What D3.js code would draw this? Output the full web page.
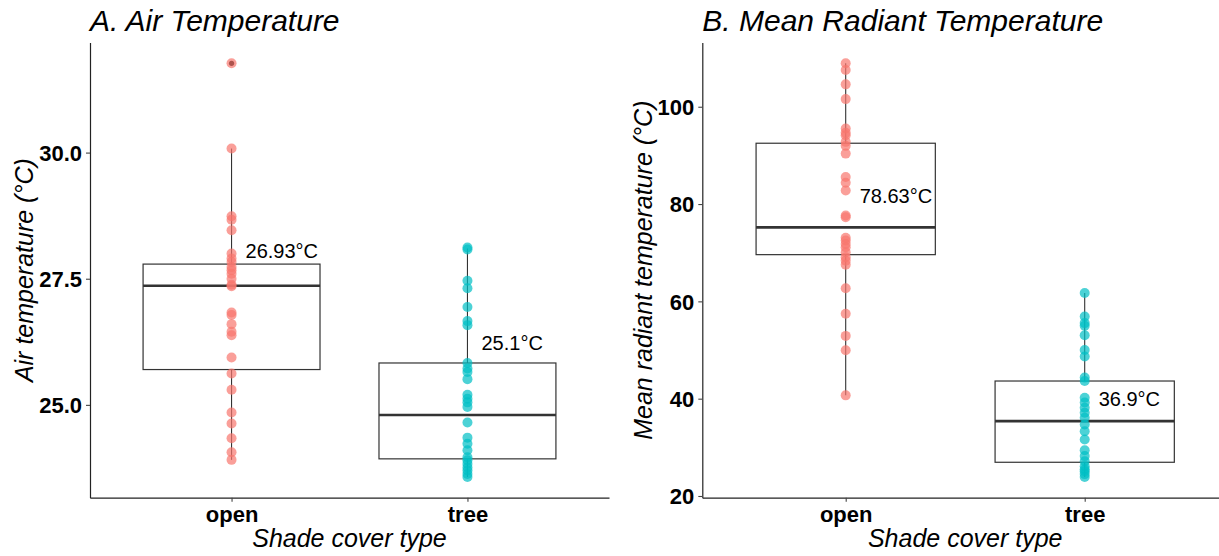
<!DOCTYPE html>
<html>
<head>
<meta charset="utf-8">
<script src="https://cdn.jsdelivr.net/npm/d3@7"></script>
<style>
  body { margin: 0; background: #fff; }
  text { font-family: "Liberation Sans", Arial, sans-serif; }
</style>
</head>
<body>
<div id="chart"></div>
<script>
// values
var categories = ["open", "tree"];

var airOpen = [31.77, 30.08, 28.74, 28.67, 28.46, 28.0, 27.9, 27.83, 27.73, 27.67, 27.6, 27.5, 27.38, 27.35,
    26.83, 26.78, 26.6, 26.45, 26.38, 25.94, 25.62, 25.3, 24.85, 24.63, 24.34, 24.06, 23.91];
var airTree = [28.12, 28.08, 27.46, 27.31, 26.94, 26.66, 26.58, 25.83, 25.72, 25.65, 25.51, 25.2, 25.12,
    25.05, 24.96, 24.65, 24.35, 24.23, 24.1, 23.96, 23.9, 23.83, 23.76, 23.7, 23.63, 23.57];
var mrtOpen = [108.93, 107.55, 104.6, 101.57, 95.53, 94.63, 94.15, 92.78, 91.96, 90.37, 85.57, 84.39, 82.8,
    77.65, 77.3, 73.05, 72.5, 71.8, 71.13, 70.1, 69.07, 68.37, 67.55, 62.68, 57.44, 52.9, 49.96, 40.68];
var mrtTree = [61.71, 56.9, 55.53, 54.97, 53.05, 50.02, 48.66, 44.33, 43.63, 40.2, 39.2, 38.14, 37.1, 36.08,
    34.7, 33.32, 31.6, 29.4, 28.2, 27.13, 26.1, 25.5, 25.07, 24.5, 23.9];

// box stats per category: [lower whisker, q1, median, q3, upper whisker]
var airBoxOpen = [23.91, 25.70, 27.36, 27.79, 30.08];
var airBoxTree = [23.57, 23.93, 24.80, 25.83, 28.10];
var mrtBoxOpen = [40.68, 69.6, 75.2, 92.5, 108.93];
var mrtBoxTree = [23.9, 26.93, 35.38, 43.63, 61.71];
var airOutliers = [[31.77], []];
var mrtOutliers = [[], []];

var airMeans = [26.93, 25.1];
var mrtMeans = [78.63, 36.9];
var airMeanLabels = ["26.93°C", "25.1°C"];
var mrtMeanLabels = ["78.63°C", "36.9°C"];

var airTicks = [25, 27.5, 30];
var mrtTicks = [20, 40, 60, 80, 100];

var width = 1219,
    height = 556,
    plotTop = 42.6,
    plotBottom = 497.7;

var colors = d3.scaleOrdinal().domain(categories).range(["#F8766D", "#00BFC4"]);

var svg = d3.select("#chart").append("svg")
    .attr("width", width)
    .attr("height", height);

function panel(cfg) {
    var g = svg.append("g").attr("transform", "translate(" + cfg.left + "," + plotTop + ")");
    var h = plotBottom - plotTop;

    var all = cfg.values[0].concat(cfg.values[1]);
    var ext = d3.extent(all);
    var pad = (ext[1] - ext[0]) * 0.05;

    var y = d3.scaleLinear().domain([ext[0] - pad, ext[1] + pad]).range([h, 0]);
    var x = d3.scalePoint().domain(categories).range([0, cfg.width]).padding(0.6);
    var bw = x.step() * 0.75;

    // axes, no end ticks like ggplot
    var yAxis = g.append("g").call(d3.axisLeft(y).tickValues(cfg.ticks).tickFormat(cfg.fmt)
        .tickSize(4).tickSizeOuter(0).tickPadding(4));
    var xAxis = g.append("g").attr("transform", "translate(0," + h + ")")
        .call(d3.axisBottom(x).tickSize(4).tickSizeOuter(0).tickPadding(6));
    [yAxis, xAxis].forEach(function(a) {
        a.select(".domain").attr("stroke", "#222").attr("stroke-width", 1.2);
        a.selectAll(".tick line").attr("stroke", "#444").attr("stroke-width", 1.1);
        a.selectAll(".tick text")
            .attr("fill", "#000")
            .style("font-size", "22px")
            .style("font-weight", "bold")
            .style("font-family", "'Liberation Sans', Arial, sans-serif");
    });
    yAxis.selectAll(".tick text").attr("dy", "0.36em");
    xAxis.selectAll(".tick text").attr("dy", "0.66em");

    categories.forEach(function(c, i) {
        var b = cfg.boxes[i];
        var cx = x(c);
        // whiskers
        g.append("line").attr("x1", cx).attr("x2", cx).attr("y1", y(b[3])).attr("y2", y(b[4]))
            .attr("stroke", "#333").attr("stroke-width", 1.1);
        g.append("line").attr("x1", cx).attr("x2", cx).attr("y1", y(b[0])).attr("y2", y(b[1]))
            .attr("stroke", "#333").attr("stroke-width", 1.1);
        // box
        g.append("rect").attr("x", cx - bw / 2).attr("width", bw)
            .attr("y", y(b[3])).attr("height", y(b[1]) - y(b[3]))
            .attr("fill", "#fff").attr("stroke", "#333").attr("stroke-width", 1.2);
        g.append("line").attr("x1", cx - bw / 2).attr("x2", cx + bw / 2).attr("y1", y(b[2])).attr("y2", y(b[2]))
            .attr("stroke", "#333").attr("stroke-width", 2.6);
        // outliers
        g.selectAll(null).data(cfg.outliers[i]).enter().append("circle")
            .attr("cx", cx).attr("cy", function(d) { return y(d); })
            .attr("r", 2.6).attr("fill", "#000");
        // points
        g.selectAll(null).data(cfg.values[i]).enter().append("circle")
            .attr("cx", cx).attr("cy", function(d) { return y(d); })
            .attr("r", 5).attr("fill", colors(c)).attr("fill-opacity", 0.7);
        // mean label
        g.append("text")
            .attr("x", cx + 14).attr("y", y(cfg.means[i] + cfg.labelShift))
            .attr("dy", "0.36em")
            .style("font-size", "20px")
            .attr("fill", "#000")
            .text(cfg.labels[i]);
    });

    // titles
    g.append("text").attr("x", 0).attr("y", 31 - plotTop)
        .style("font-size", "30px").style("font-style", "italic")
        .text(cfg.title);
    g.append("text")
        .attr("transform", "translate(" + cfg.yTitleX + "," + (h / 2) + ") rotate(-90)")
        .attr("text-anchor", "middle")
        .style("font-size", "25px").style("font-style", "italic")
        .text(cfg.yTitle);
    g.append("text").attr("x", cfg.xTitleCenter).attr("y", 547 - plotTop)
        .attr("text-anchor", "middle")
        .style("font-size", "25px").style("font-style", "italic")
        .text("Shade cover type");
}

panel({
    left: 90, width: 519,
    values: [airOpen, airTree], boxes: [airBoxOpen, airBoxTree], outliers: airOutliers,
    means: airMeans, labels: airMeanLabels, labelShift: 1.13,
    ticks: airTicks, fmt: d3.format(".1f"),
    title: "A. Air Temperature", yTitle: "Air temperature (°C)", yTitleX: -57, xTitleCenter: 259.5
});

panel({
    left: 702.3, width: 525.8,
    values: [mrtOpen, mrtTree], boxes: [mrtBoxOpen, mrtBoxTree], outliers: mrtOutliers,
    means: mrtMeans, labels: mrtMeanLabels, labelShift: 3.12,
    ticks: mrtTicks, fmt: d3.format("d"),
    title: "B. Mean Radiant Temperature", yTitle: "Mean radiant temperature (°C)", yTitleX: -50, xTitleCenter: 262.9
});
</script>
</body>
</html>
